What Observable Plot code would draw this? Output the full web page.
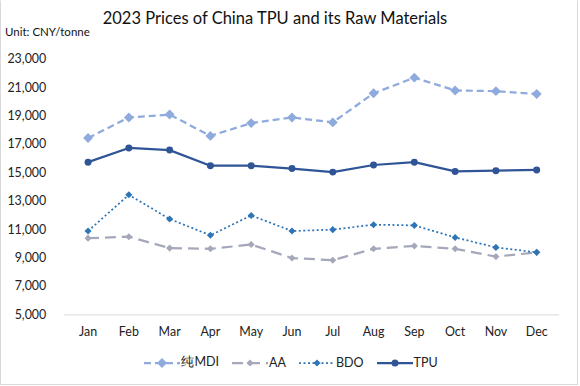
<!DOCTYPE html>
<html>
<head>
<meta charset="utf-8">
<script src="https://cdn.jsdelivr.net/npm/d3@7"></script>
<script src="https://cdn.jsdelivr.net/npm/@observablehq/plot@0.6"></script>
<style>
  html, body { margin: 0; padding: 0; background: #fff; }
  #wrap { position: relative; width: 578px; height: 385px; box-sizing: border-box; border: 1px solid #d9d9d9; border-top-color: #fff; font-family: Lato, "Open Sans", sans-serif; color: #222; overflow: hidden; }
  #chart { position: absolute; left: -1px; top: -1px; }
  #title { position: absolute; left: 0; width: 548px; top: 7px; text-align: center; font-size: 16.5px; color: #111; }
  #unit { position: absolute; left: 4px; top: 24px; font-size: 11.5px; color: #111; }
  #legend { position: absolute; left: 0; width: 580px; top: 353px; display: flex; justify-content: center; gap: 13px; font-size: 12.5px; color: #222; }
  #legend .item { display: flex; align-items: center; gap: 1px; }
</style>
</head>
<body>
<div id="wrap">
  <div id="chart"></div>
  <div id="title">2023 Prices of China TPU and its Raw Materials</div>
  <div id="unit">Unit: CNY/tonne</div>
  <div id="legend"></div>
</div>
<script>
const months = ["Jan","Feb","Mar","Apr","May","Jun","Jul","Aug","Sep","Oct","Nov","Dec"];
const mdi = [17450, 18900, 19100, 17600, 18500, 18900, 18550, 20600, 21700, 20800, 20750, 20550];
const aa  = [10400, 10500, 9700, 9650, 9950, 9000, 8850, 9650, 9850, 9650, 9100, 9400];
const bdo = [10900, 13450, 11750, 10600, 12000, 10900, 11000, 11350, 11300, 10450, 9750, 9400];
const tpu = [15750, 16750, 16600, 15500, 15500, 15300, 15050, 15550, 15750, 15100, 15150, 15200];
const yTicks = [5000, 7000, 9000, 11000, 13000, 15000, 17000, 19000, 21000, 23000];
const seriesNames = ["纯MDI", "AA", "BDO", "TPU"];

const styles = {
  "纯MDI": {color: "#8FAADC", dash: "7,4", width: 2.25, symbol: "diamond2", r: 4.5, hd: 5},
  "AA":    {color: "#A5A8BA", dash: "11,6", width: 2.25, symbol: "diamond2", r: 3.2, hd: 3.6},
  "BDO":   {color: "#2E75B6", dash: "2,2.5", width: 1.75, symbol: "diamond2", r: 3.2, hd: 3.6},
  "TPU":   {color: "#2F5597", dash: null, width: 2.25, symbol: "circle", r: 3.5, hd: 3.5}
};
const values = {"纯MDI": mdi, "AA": aa, "BDO": bdo, "TPU": tpu};

const marks = [
  Plot.ruleY([5000], {stroke: "#d9d9d9", strokeWidth: 1})
];
for (const name of seriesNames) {
  const s = styles[name];
  const data = months.map((m, i) => ({month: m, value: values[name][i]}));
  marks.push(Plot.line(data, {x: "month", y: "value", stroke: s.color, strokeWidth: s.width, strokeDasharray: s.dash, strokeLinecap: "butt"}));
  marks.push(Plot.dot(data, {x: "month", y: "value", fill: s.color, r: s.r, symbol: s.symbol, stroke: "none"}));
}

const plot = Plot.plot({
  width: 580,
  height: 345,
  marginTop: 59,
  marginBottom: 29,
  marginLeft: 64,
  marginRight: 18,
  style: {fontFamily: "Lato, 'Open Sans', sans-serif", fontSize: "12.5px", color: "#222", background: "transparent"},
  x: {type: "point", domain: months, padding: 0.5, label: null, tickSize: 0, tickPadding: 12},
  y: {domain: [5000, 23000], ticks: yTicks, tickFormat: d3.format(","), label: null, tickSize: 0, tickPadding: 18},
  marks
});
document.getElementById("chart").appendChild(plot);

const legend = document.getElementById("legend");
for (const name of seriesNames) {
  const s = styles[name];
  const item = document.createElement("div");
  item.className = "item";
  const w = 36;
  const svg = d3.create("svg").attr("width", w).attr("height", 12);
  svg.append("line").attr("x1", 0).attr("x2", w).attr("y1", 6).attr("y2", 6)
    .attr("stroke", s.color).attr("stroke-width", s.width).attr("stroke-dasharray", s.dash);
  if (s.symbol === "circle") {
    svg.append("circle").attr("cx", w/2).attr("cy", 6).attr("r", s.r).attr("fill", s.color);
  } else {
    const sz = s.hd;
    svg.append("path").attr("d", `M${w/2},${6-sz} L${w/2+sz},6 L${w/2},${6+sz} L${w/2-sz},6Z`).attr("fill", s.color);
  }
  item.appendChild(svg.node());
  const label = document.createElement("span");
  label.textContent = name;
  item.appendChild(label);
  legend.appendChild(item);
}
</script>
</body>
</html>
